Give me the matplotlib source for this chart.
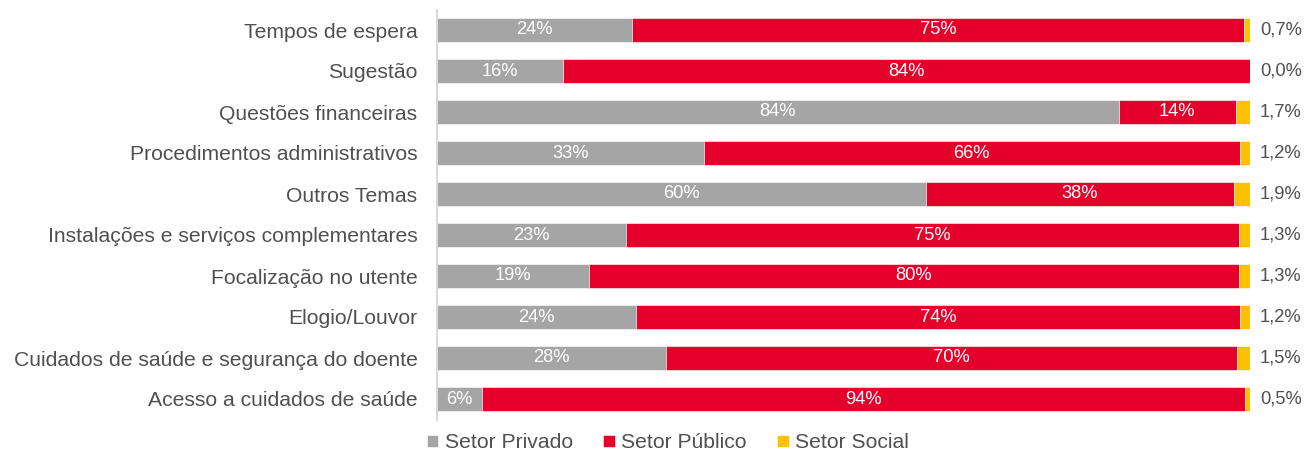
import matplotlib
matplotlib.use("Agg")
import matplotlib.pyplot as plt
import numpy as np

categories = ["Tempos de espera", "Sugestão", "Questões financeiras",
              "Procedimentos administrativos", "Outros Temas",
              "Instalações e serviços complementares", "Focalização no utente",
              "Elogio/Louvor", "Cuidados de saúde e segurança do doente",
              "Acesso a cuidados de saúde"]
privado = [24.0, 15.5, 83.9, 32.8, 60.2, 23.3, 18.7, 24.5, 28.2, 5.5]
publico = [75.3, 84.5, 14.4, 66.0, 37.9, 75.4, 80.0, 74.3, 70.3, 94.0]
social = [0.7, 0.0, 1.7, 1.2, 1.9, 1.3, 1.3, 1.2, 1.5, 0.5]
series_names = ["Setor Privado", "Setor Público", "Setor Social"]
colors = ["#A5A5A5", "#E4002B", "#FFC000"]

plt.rcParams['font.family'] = ['Liberation Sans', 'DejaVu Sans']
txt = "#505050"

fig = plt.figure(figsize=(13.05, 4.53), dpi=100)
ax = fig.add_axes([437/1305, 1-419.5/453, (1249.5-437)/1305, 410/453])

y = np.arange(len(categories))
priv = np.array(privado); pub = np.array(publico); soc = np.array(social)
b1 = ax.barh(y, priv, height=0.57, color=colors[0], edgecolor="white", linewidth=0.4, label=series_names[0])
b2 = ax.barh(y, pub, left=priv, height=0.57, color=colors[1], edgecolor="white", linewidth=0.4, label=series_names[1])
b3 = ax.barh(y, soc, left=priv+pub, height=0.57, color=colors[2], edgecolor="white", linewidth=0.4, label=series_names[2])

for i in range(len(categories)):
    ax.text(priv[i]/2, y[i], f"{priv[i]:.0f}%", ha="center", va="center",
            color="white", fontsize=13.2)
    ax.text(priv[i]+pub[i]/2, y[i], f"{pub[i]:.0f}%", ha="center", va="center",
            color="white", fontsize=13.2)
    ax.annotate(f"{soc[i]:.1f}%".replace(".", ","), xy=(100.0, y[i]),
                xytext=(7.5, 0), textcoords="offset points",
                ha="left", va="center", color=txt, fontsize=13.2)

ax.set_xlim(0, 100)
ax.set_ylim(len(categories)-0.5, -0.5)
ax.set_yticks(y)
ax.set_yticklabels(categories, fontsize=15.2, color=txt)
ax.tick_params(axis="y", length=0, pad=14)
ax.set_xticks([])
for s in ["top", "right", "bottom"]:
    ax.spines[s].set_visible(False)
ax.spines["left"].set_color("#D9D9D9")
ax.spines["left"].set_linewidth(1.5)

fig.legend(handles=[b1, b2, b3], labels=series_names, loc="center",
           bbox_to_anchor=(668/1305, 1-443/453), ncol=3, frameon=False,
           fontsize=15.2, handlelength=0.55, handleheight=0.55, handletextpad=0.3,
           columnspacing=1.45, labelcolor=txt)

fig.savefig("out.png", dpi=100)
